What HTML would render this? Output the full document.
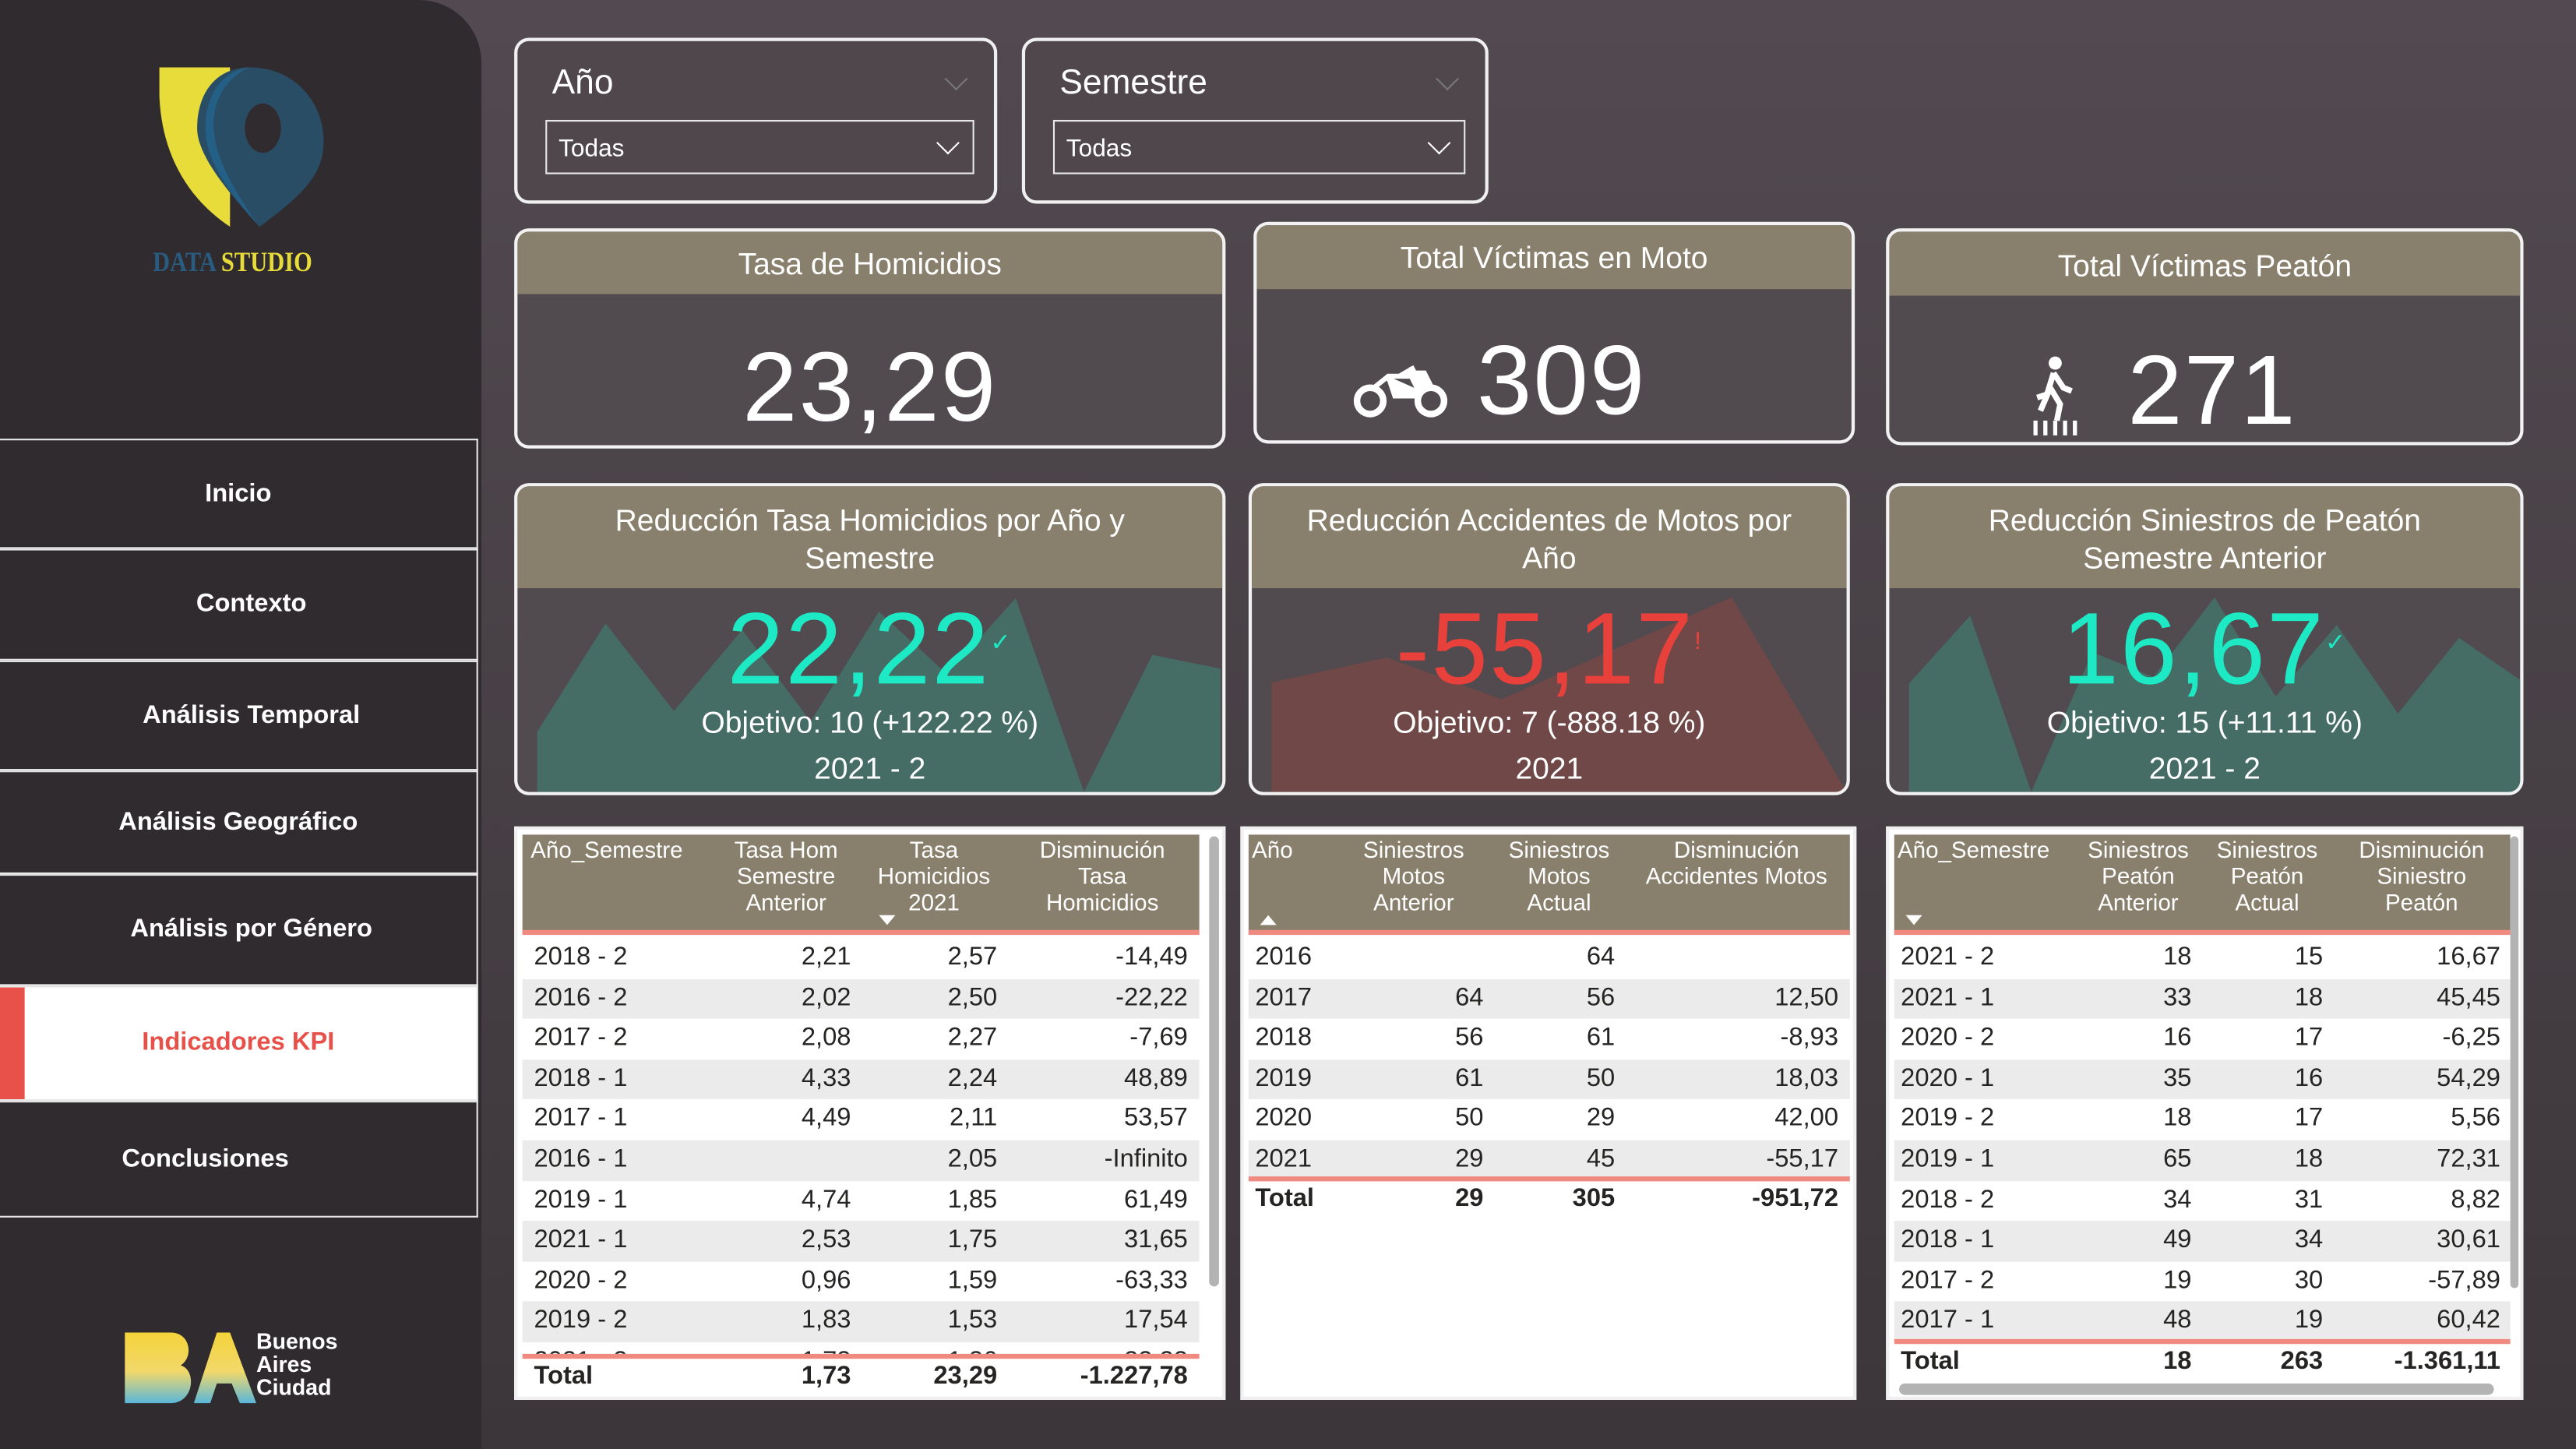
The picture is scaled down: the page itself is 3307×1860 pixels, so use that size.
<!DOCTYPE html>
<html><head><meta charset="utf-8">
<style>
*{box-sizing:border-box;margin:0;padding:0}
html,body{width:3307px;height:1860px;overflow:hidden;background:#463f44}
#stage{position:absolute;left:0;top:0;width:1568px;height:882px;transform:scale(2.10906);transform-origin:0 0;
font-family:"Liberation Sans",sans-serif;background:linear-gradient(180deg,#524a50 0%,#453e43 60%,#3c363a 100%);overflow:hidden}
.abs{position:absolute}
#sidebar{left:0;top:0;width:293px;height:882px;background:#302b2f;border-top-right-radius:38px}
.nav{position:absolute;left:0;width:291px;border:1.5px solid #e8e8e8;border-left:none;color:#fff;font-weight:bold;font-size:15.5px;display:flex;align-items:center;justify-content:center;background:#302b2f}
.nav.active{background:#fff;color:#e8504a}
.slicer{position:absolute;border:2px solid #f0f0f0;border-radius:9px;background:#4f474c}
.slicer .t{position:absolute;left:21px;top:14px;color:#fff;font-size:21px}
.slicer .dd{position:absolute;left:17px;top:48px;right:12px;height:33px;border:1.5px solid #e8e8e8;color:#fff;font-size:15px;padding:8px 0 0 7px}
.card{position:absolute;border:2px solid #f2f2f2;border-radius:9px;background:#514a4f;overflow:hidden}
.card .hd{position:absolute;left:0;right:0;top:0;background:#897f6d;color:#fff;font-size:18.5px;text-align:center;line-height:23px}
.big{position:absolute;left:0;right:0;text-align:center;color:#fff;font-size:60px;letter-spacing:1px}
.sub{position:absolute;left:0;right:0;text-align:center;color:#fff;font-size:18.5px}
.tbl{position:absolute;background:#fff;border:2px solid #f0f0f0;overflow:hidden}
.tbl .th{position:absolute;top:3px;height:61px;background:#897f6d;border-bottom:3px solid #f08a80}
.cell{position:absolute;font-size:15.5px;color:#252423;white-space:nowrap}
.hcell{position:absolute;color:#fff;font-size:14px;line-height:16px;text-align:center}
</style></head>
<body>
<div id="stage">
 <div id="sidebar" class="abs">
  <svg class="abs" style="left:90px;top:38px" width="115" height="105">
   <path d="M7 3 L50 3 L50 100 C20 80 8 50 7 20 Z" fill="#e8dc3a"/>
   <path d="M62 3 C90 3 107 25 107 48 C107 68 95 80 68 100 C45 75 30 55 30 40 C30 18 42 3 62 3 Z" fill="#2a4d66"/>
   <path d="M62 3 C45 5 35 20 35 40 C35 60 50 80 68 100 C50 75 40 55 40 38 C40 20 50 8 62 3Z" fill="#245f86"/>
   <ellipse cx="70" cy="40" rx="11" ry="15" fill="#302b2f"/>
  </svg>
  <div class="abs" style="left:93px;top:150px;font-family:'Liberation Serif',serif;font-weight:bold;font-size:17px;transform:scaleX(0.85);transform-origin:0 0;white-space:nowrap"><span style="color:#2a5b80">DATA</span> <span style="color:#e8dc3a">STUDIO</span></div>
  <div class="nav" style="top:267px;height:67px">Inicio</div>
  <div class="nav" style="top:334px;height:68px"><span style="margin-left:16px">Contexto</span></div>
  <div class="nav" style="top:402px;height:67px"><span style="margin-left:16px">Análisis Temporal</span></div>
  <div class="nav" style="top:469px;height:63px">Análisis Geográfico</div>
  <div class="nav" style="top:532px;height:68px"><span style="margin-left:16px">Análisis por Género</span></div>
  <div class="nav active" style="top:600px;height:70px"><div class="abs" style="left:0;top:0;width:15px;height:100%;background:#e8504a"></div>Indicadores KPI</div>
  <div class="nav" style="top:670px;height:71px"><span style="margin-right:40px">Conclusiones</span></div>
  <svg class="abs" style="left:74px;top:806px" width="82" height="52">
   <defs><linearGradient id="bag" x1="0" y1="0" x2="0" y2="1"><stop offset="0" stop-color="#f4d33a"/><stop offset="0.55" stop-color="#f2d86a"/><stop offset="1" stop-color="#5ab7d9"/></linearGradient></defs>
   <path d="M2 5 H30 C42 5 44 20 36 25 C46 28 44 48 30 48 H2 Z M44 48 L58 5 H66 L82 48 H72 L67 36 H58 L54 48 Z" fill="url(#bag)"/>
  </svg>
  <div class="abs" style="left:156px;top:810px;color:#fff;font-weight:bold;font-size:13.5px;line-height:14px">Buenos<br>Aires<br>Ciudad</div>
 </div>

 <div class="slicer" style="left:313px;top:23px;width:294px;height:101px">
  <div class="t">Año</div><div class="abs" style="right:18px;top:18px;width:10px;height:10px;border-right:1.5px solid #777;border-bottom:1.5px solid #777;transform:rotate(45deg)"></div>
  <div class="dd">Todas<div class="abs" style="right:10px;top:8px;width:10px;height:10px;border-right:1.5px solid #fff;border-bottom:1.5px solid #fff;transform:rotate(45deg)"></div></div>
 </div>
 <div class="slicer" style="left:622px;top:23px;width:284px;height:101px">
  <div class="t">Semestre</div><div class="abs" style="right:18px;top:18px;width:10px;height:10px;border-right:1.5px solid #777;border-bottom:1.5px solid #777;transform:rotate(45deg)"></div>
  <div class="dd">Todas<div class="abs" style="right:10px;top:8px;width:10px;height:10px;border-right:1.5px solid #fff;border-bottom:1.5px solid #fff;transform:rotate(45deg)"></div></div>
 </div>

 <div class="card" style="left:313px;top:139px;width:433px;height:134px">
  <div class="hd" style="height:38px;padding-top:8px">Tasa de Homicidios</div>
  <div class="big" style="top:60px">23,29</div>
 </div>
 <div class="card" style="left:763px;top:135px;width:366px;height:135px">
  <div class="hd" style="height:39px;padding-top:8px">Total Víctimas en Moto</div>
  <svg class="abs" style="left:58px;top:82px" width="60" height="36">
   <circle cx="11" cy="25" r="8" fill="none" stroke="#fff" stroke-width="4"/><circle cx="48" cy="25" r="8" fill="none" stroke="#fff" stroke-width="4"/>
   <path d="M12 18 L22 10 H36 L40 18 L48 16 L44 8 H38 L36 4 M22 10 L26 22 H38 L40 18" fill="#fff" stroke="#fff" stroke-width="3"/>
  </svg>
  <div class="big" style="top:60px;left:134px;text-align:left">309</div>
 </div>
 <div class="card" style="left:1148px;top:139px;width:388px;height:132px">
  <div class="hd" style="height:39px;padding-top:9px">Total Víctimas Peatón</div>
  <svg class="abs" style="left:86px;top:75px" width="30" height="50">
   <circle cx="15" cy="5" r="4" fill="#fff"/>
   <path d="M14 11 L10 24 L4 26 M14 11 L20 20 L25 22 M12 20 L18 30 L16 40 M12 20 L6 34" stroke="#fff" stroke-width="3.5" fill="none"/>
   <path d="M3 40 V49 M9 40 V49 M15 40 V49 M21 40 V49 M27 40 V49" stroke="#fff" stroke-width="2.5"/>
  </svg>
  <div class="big" style="top:62px;left:145px;text-align:left">271</div>
 </div>

 <div class="card" style="left:313px;top:294px;width:433px;height:190px">
  <div class="hd" style="height:62px;padding-top:9px">Reducción Tasa Homicidios por Año y<br>Semestre</div>
  <svg id="sp1" class="abs" style="left:0;top:0" width="433" height="190"></svg>
  <div class="big" style="top:64px;color:#1de9c5;font-size:62px">22,22<span style="font-size:15px;vertical-align:top;position:relative;top:22px">✓</span></div>
  <div class="sub" style="top:133px">Objetivo: 10 (+122.22 %)</div>
  <div class="sub" style="top:161px">2021 - 2</div>
 </div>
 <div class="card" style="left:760px;top:294px;width:366px;height:190px">
  <div class="hd" style="height:62px;padding-top:9px">Reducción Accidentes de Motos por<br>Año</div>
  <svg id="sp2" class="abs" style="left:0;top:0" width="366" height="190"></svg>
  <div class="big" style="top:64px;color:#e8403a;font-size:62px">-55,17<span style="font-size:15px;vertical-align:top;position:relative;top:22px">!</span></div>
  <div class="sub" style="top:133px">Objetivo: 7 (-888.18 %)</div>
  <div class="sub" style="top:161px">2021</div>
 </div>
 <div class="card" style="left:1148px;top:294px;width:388px;height:190px">
  <div class="hd" style="height:62px;padding-top:9px">Reducción Siniestros de Peatón<br>Semestre Anterior</div>
  <svg id="sp3" class="abs" style="left:0;top:0" width="388" height="190"></svg>
  <div class="big" style="top:64px;color:#1de9c5;font-size:62px">16,67<span style="font-size:15px;vertical-align:top;position:relative;top:22px">✓</span></div>
  <div class="sub" style="top:133px">Objetivo: 15 (+11.11 %)</div>
  <div class="sub" style="top:161px">2021 - 2</div>
 </div>

 <div id="t1" class="tbl" style="left:313px;top:503px;width:433px;height:349px"></div>
 <div id="t2" class="tbl" style="left:755px;top:503px;width:375px;height:349px"></div>
 <div id="t3" class="tbl" style="left:1148px;top:503px;width:388px;height:349px"></div>
</div>
<script>
// sparkline data (relative heights 0-100)
const homTrend = [29.5, 82.7, 39.7, 79.5, 34.6, 88.5, 57.7, 95.1, 0, 67.3, 60.5];
const motoTrend = [53.8, 66, 45.5, 70.5, 95.5, 0];
const peatonTrend = [53.2, 86.5, 0, 68.6, 56.4, 95.5, 46.8, 82, 38.5, 75.6, 55];
// table data
const t1Cols = ["Año_Semestre", "Tasa Hom<br>Semestre<br>Anterior", "Tasa<br>Homicidios<br>2021", "Disminución<br>Tasa<br>Homicidios"];
const t1Periods = ["2018 - 2","2016 - 2","2017 - 2","2018 - 1","2017 - 1","2016 - 1","2019 - 1","2021 - 1","2020 - 2","2019 - 2","2021 - 2"];
const t1Prev = ["2,21","2,02","2,08","4,33","4,49","","4,74","2,53","0,96","1,83","1,73"];
const t1Curr = ["2,57","2,50","2,27","2,24","2,11","2,05","1,85","1,75","1,59","1,53","1,36"];
const t1Dis = ["-14,49","-22,22","-7,69","48,89","53,57","-Infinito","61,49","31,65","-63,33","17,54","22,22"];
const t1Total = ["Total","1,73","23,29","-1.227,78"];
const t2Cols = ["Año", "Siniestros<br>Motos<br>Anterior", "Siniestros<br>Motos<br>Actual", "Disminución<br>Accidentes Motos"];
const t2Years = ["2016","2017","2018","2019","2020","2021"];
const t2Prev = ["","64","56","61","50","29"];
const t2Curr = ["64","56","61","50","29","45"];
const t2Dis = ["","12,50","-8,93","18,03","42,00","-55,17"];
const t2Total = ["Total","29","305","-951,72"];
const t3Cols = ["Año_Semestre", "Siniestros<br>Peatón<br>Anterior", "Siniestros<br>Peatón<br>Actual", "Disminución<br>Siniestro<br>Peatón"];
const t3Periods = ["2021 - 2","2021 - 1","2020 - 2","2020 - 1","2019 - 2","2019 - 1","2018 - 2","2018 - 1","2017 - 2","2017 - 1"];
const t3Prev = ["18","33","16","35","18","65","34","49","19","48"];
const t3Curr = ["15","18","17","16","17","18","31","34","30","19"];
const t3Dis = ["16,67","45,45","-6,25","54,29","5,56","72,31","8,82","30,61","-57,89","60,42"];
const t3Total = ["Total","18","263","-1.361,11"];

const NS = "http://www.w3.org/2000/svg";
function spark(id, vals, x0, x1, yTop, yBot, color){
  const svg = document.getElementById(id);
  const xs = i => x0 + (x1 - x0) * i / (vals.length - 1);
  const ys = v => yBot - (yBot - yTop) * v / 100;
  let pts = x0 + "," + yBot + " ";
  vals.forEach((v,i)=>{ pts += xs(i) + "," + ys(v) + " "; });
  pts += x1 + "," + yBot;
  const p = document.createElementNS(NS, "polygon");
  p.setAttribute("points", pts);
  p.setAttribute("fill", color);
  
  
  svg.appendChild(p);
}
spark("sp1", homTrend, 12, 428, 62, 186, "#456d66");
spark("sp2", motoTrend, 12, 362, 62, 186, "#704848");
spark("sp3", peatonTrend, 12, 384, 62, 186, "#456d66");

function table(id, cols, colX, colAlign, rows, total, opts){
  const t = document.getElementById(id);
  const th = document.createElement("div");
  th.className = "th";
  th.style.left = "3px"; th.style.width = opts.hw + "px";
  
  
  t.appendChild(th);
  cols.forEach((c,i)=>{
    const d = document.createElement("div");
    d.className = "hcell";
    d.innerHTML = c;
    d.style.top = "4px";
    d.style.left = colX[i][0] + "px"; d.style.width = (colX[i][1]-colX[i][0]) + "px";
    if(i===0) d.style.textAlign = "left";
    
    
    t.appendChild(d);
  });
  const rh = 24.6, top0 = 66;
  rows.forEach((r,ri)=>{
    const y = top0 + ri*rh;
    if(y > opts.clip) return;
    const bg = document.createElement("div");
    bg.className = "abs";
    bg.style.cssText = "left:3px;width:"+opts.hw+"px;top:"+y+"px;height:"+(Math.min(rh, opts.clip - y))+"px;background:"+(ri%2?"#ebebeb":"#fff")+";overflow:hidden";
    
    
    r.forEach((v,ci)=>{
      const c = document.createElement("div");
      c.className = "cell";
      c.textContent = v;
      c.style.top = "3px";
      if(ci===0){ c.style.left = (colX[0][0]+2-3) + "px"; }
      else { c.style.right = (opts.hw + 3 - colX[ci][1] + 6) + "px"; }
      bg.appendChild(c);
    });
    t.appendChild(bg);
  });
  const line = document.createElement("div");
  line.className = "abs";
  line.style.cssText = "left:3px;width:"+opts.hw+"px;top:"+opts.clip+"px;height:3px;background:#f08a80";
  
  
  t.appendChild(line);
  total.forEach((v,ci)=>{
    const c = document.createElement("div");
    c.className = "cell";
    c.textContent = v;
    c.style.fontWeight = "bold";
    c.style.top = (opts.clip + 5) + "px";
    if(ci===0) c.style.left = (colX[0][0]+2) + "px";
    else c.style.right = (opts.tw - colX[ci][1] + 6) + "px";
    
    
    t.appendChild(c);
  });
}
const zip = (...a) => a[0].map((_,i)=>a.map(x=>x[i]));
table("t1", t1Cols, [[8,118],[118,209],[209,298],[298,414]], null, zip(t1Periods,t1Prev,t1Curr,t1Dis), t1Total, {hw:412, clip:319, tw:429});
table("t2", t2Cols, [[5,55],[55,152],[152,232],[232,368]], null, zip(t2Years,t2Prev,t2Curr,t2Dis), t2Total, {hw:366, clip:211, tw:371});
table("t3", t3Cols, [[5,113],[113,190],[190,270],[270,378]], null, zip(t3Periods,t3Prev,t3Curr,t3Dis), t3Total, {hw:375, clip:310, tw:384});
function addAbs(parentId, css, name){
  const d = document.createElement("div");
  d.className = "abs"; d.style.cssText = css;
  
  
  document.getElementById(parentId).appendChild(d);
}
addAbs("t1","left:220px;top:52px;width:0;height:0;border-left:5px solid transparent;border-right:5px solid transparent;border-top:6px solid #fff","sort-arrow");
addAbs("t2","left:10px;top:52px;width:0;height:0;border-left:5px solid transparent;border-right:5px solid transparent;border-bottom:6px solid #fff","sort-arrow");
addAbs("t3","left:10px;top:52px;width:0;height:0;border-left:5px solid transparent;border-right:5px solid transparent;border-top:6px solid #fff","sort-arrow");
addAbs("t1","left:421px;top:4px;width:6px;height:274px;background:#b3b3b3;border-radius:3px","vertical-scrollbar");
addAbs("t3","left:378px;top:4px;width:5px;height:275px;background:#b3b3b3;border-radius:3px","vertical-scrollbar");
addAbs("t3","left:6px;top:337px;width:362px;height:7px;background:#b3b3b3;border-radius:4px","horizontal-scrollbar");
</script>
</body></html>
